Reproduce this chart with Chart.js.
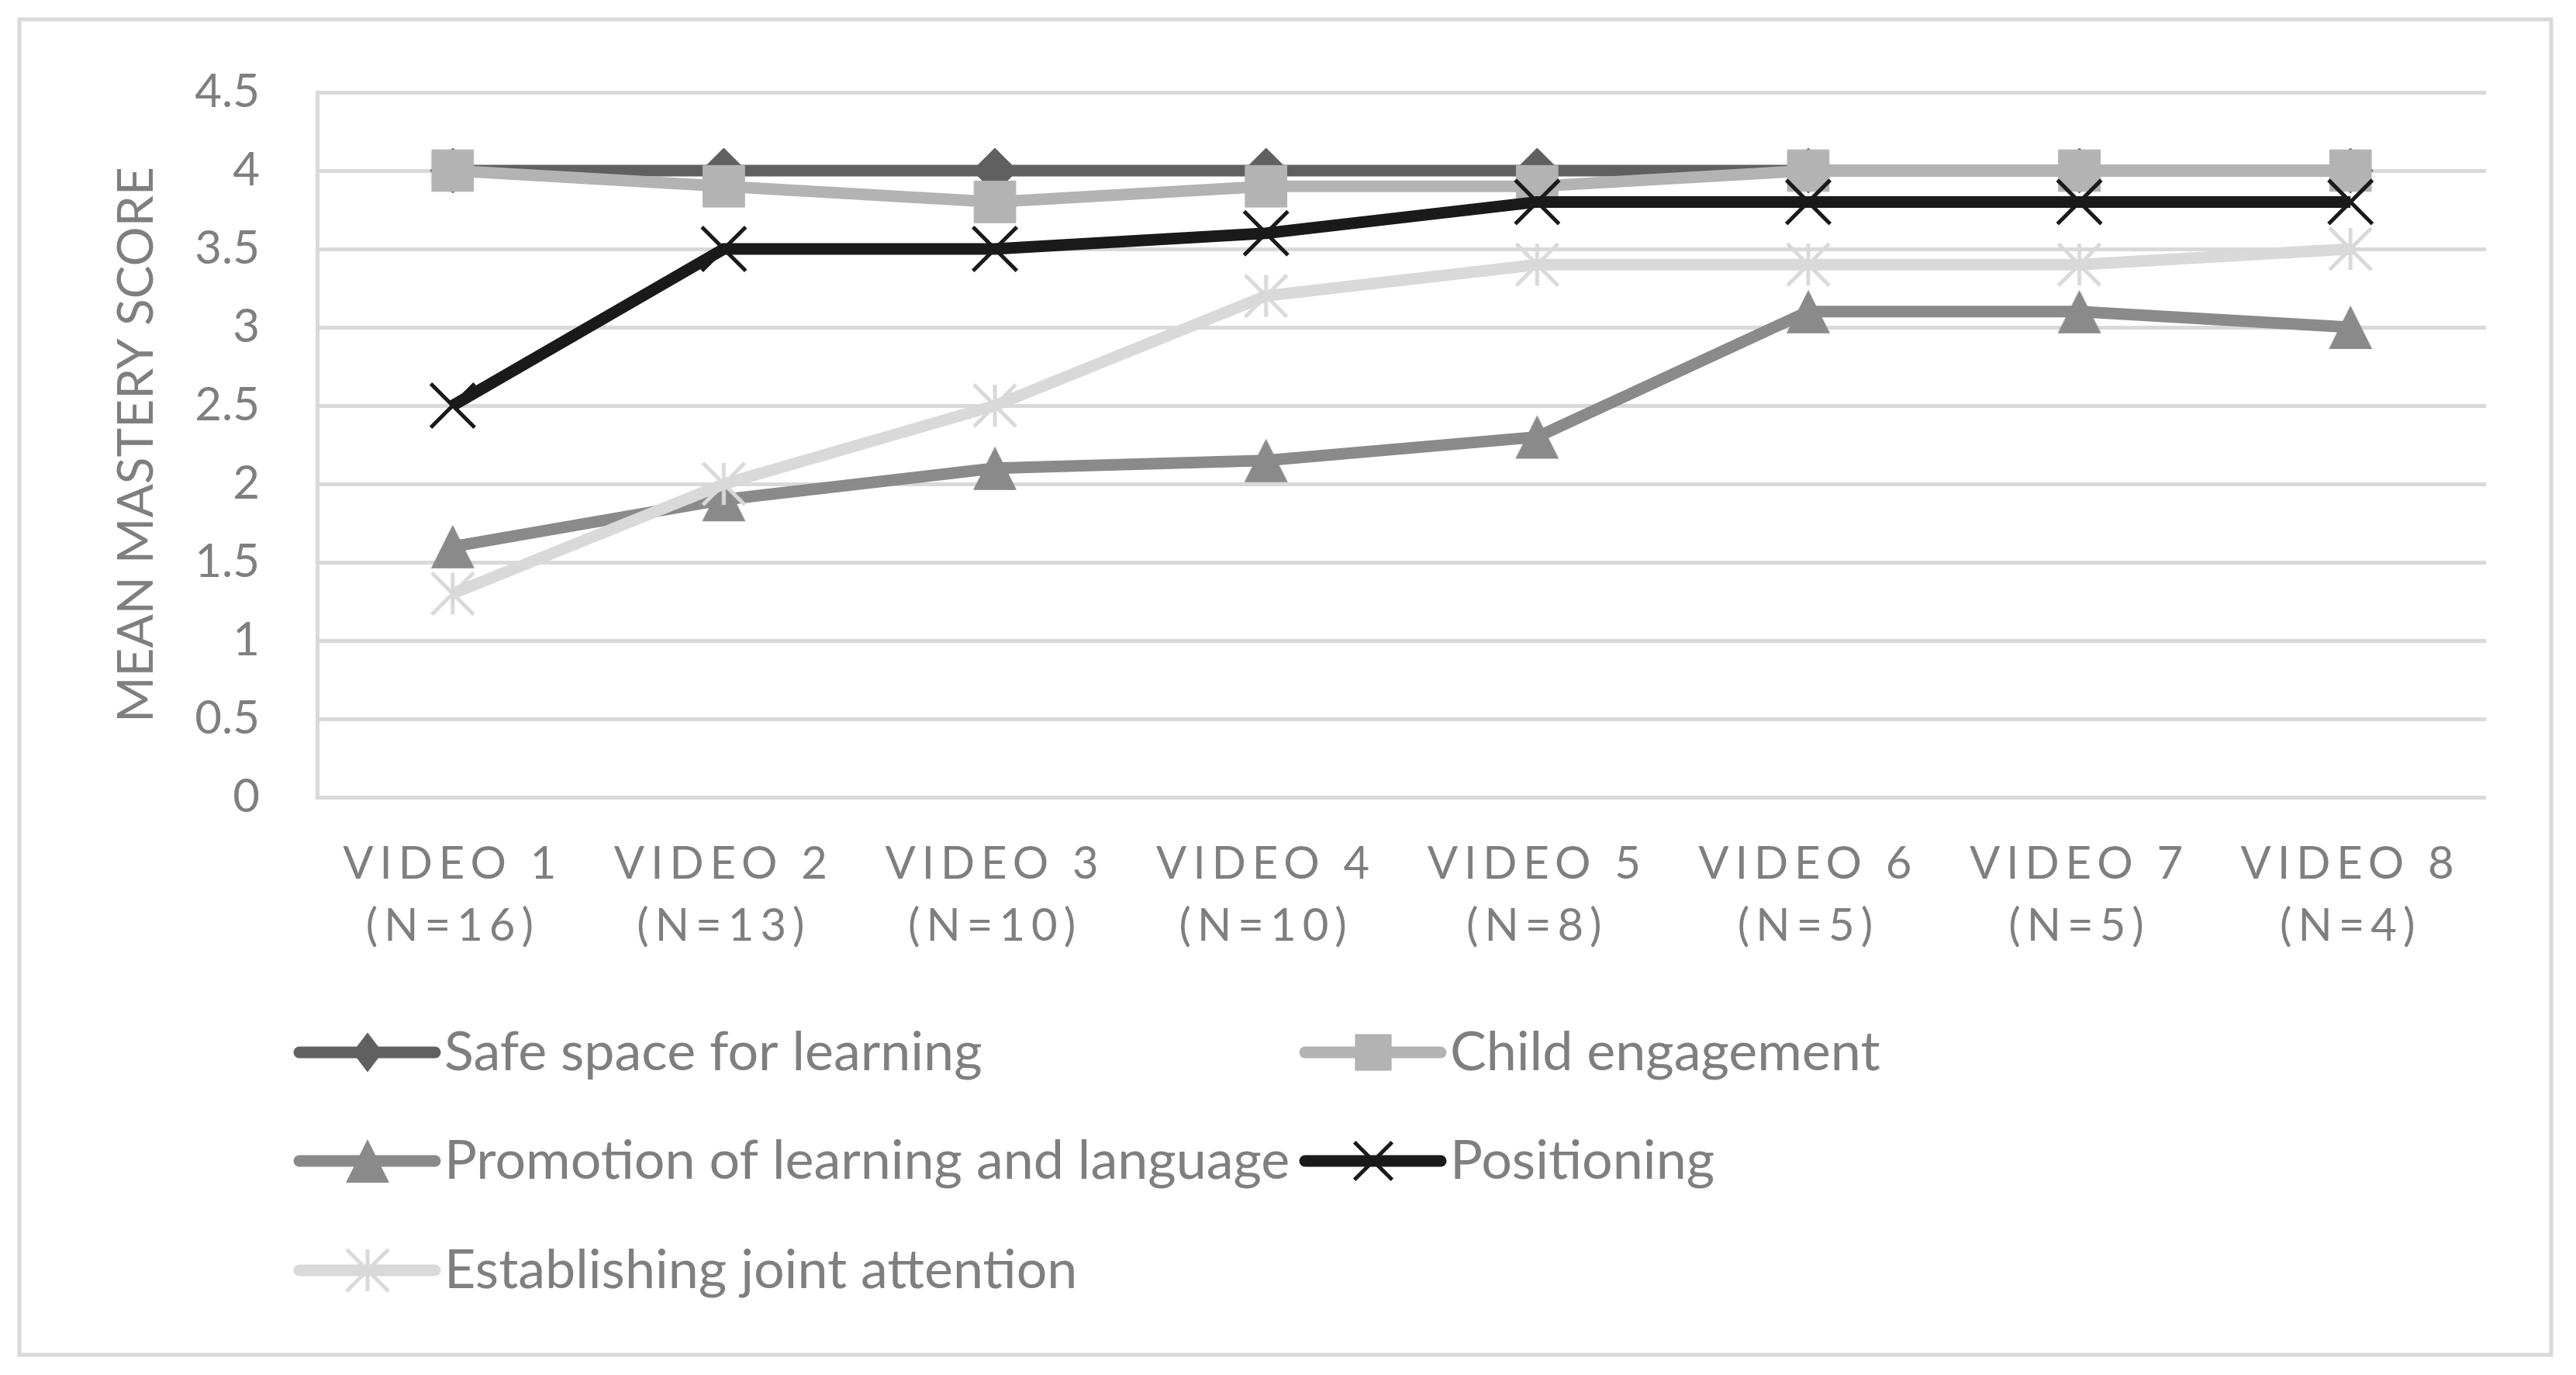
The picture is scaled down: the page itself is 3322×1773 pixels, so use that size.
<!DOCTYPE html>
<html>
<head>
<meta charset="utf-8">
<script src="https://cdn.jsdelivr.net/npm/chart.js"></script>
<style>
  html, body { margin: 0; padding: 0; background: #fff; }
  canvas { display: block; }
</style>
</head>
<body>
<canvas id="chart" width="3322" height="1773"></canvas>
<script>
const categories = ['VIDEO 1', 'VIDEO 2', 'VIDEO 3', 'VIDEO 4', 'VIDEO 5', 'VIDEO 6', 'VIDEO 7', 'VIDEO 8']
const sampleSizes = ['(N=16)', '(N=13)', '(N=10)', '(N=10)', '(N=8)', '(N=5)', '(N=5)', '(N=4)']
const yTickLabels = ['0', '0.5', '1', '1.5', '2', '2.5', '3', '3.5', '4', '4.5']

const seriesNames = ['Safe space for learning', 'Child engagement', 'Promotion of learning and language', 'Positioning', 'Establishing joint attention']
const safeSpace = [4, 4, 4, 4, 4, 4, 4, 4]
const childEngagement = [4, 3.9, 3.8, 3.9, 3.9, 4, 4, 4]
const promotion = [1.6, 1.9, 2.1, 2.15, 2.3, 3.1, 3.1, 3.0]
const positioning = [2.5, 3.5, 3.5, 3.6, 3.8, 3.8, 3.8, 3.8]
const jointAttention = [1.3, 2.0, 2.5, 3.2, 3.4, 3.4, 3.4, 3.5]

const textColor = '#7f7f7f'
const gridColor = '#d9d9d9'
Chart.defaults.font.family = 'Lato'
Chart.defaults.color = textColor

// excel style markers that chart.js has no built-in for
const triangleMarker = (color, size) => {
  const c = document.createElement('canvas')
  c.width = c.height = size
  const g = c.getContext('2d')
  g.fillStyle = color
  g.beginPath()
  g.moveTo(size / 2, 1)
  g.lineTo(size - 1, size - 1)
  g.lineTo(1, size - 1)
  g.closePath()
  g.fill()
  return c
}

const starMarker = (color, r, w) => {
  const c = document.createElement('canvas')
  c.width = c.height = 2 * r + 2 * w
  const g = c.getContext('2d')
  const m = c.width / 2
  g.strokeStyle = color
  g.lineWidth = w
  g.beginPath()
  g.moveTo(m - r, m - r); g.lineTo(m + r, m + r)
  g.moveTo(m + r, m - r); g.lineTo(m - r, m + r)
  g.moveTo(m, m - r); g.lineTo(m, m + r)
  g.stroke()
  return c
}

const line = (label, data, color, style, radius, borderW, order) => ({
  label, data, order,
  borderColor: color,
  backgroundColor: color,
  borderWidth: 15,
  pointStyle: style,
  pointRadius: radius,
  pointBorderWidth: borderW,
  pointBackgroundColor: color,
  pointBorderColor: color,
  tension: 0
})

const datasets = [
  line(seriesNames[0], safeSpace, '#606060', 'rectRot', 29, 1, 5),
  line(seriesNames[1], childEngagement, '#b3b3b3', 'rect', 38, 1, 4),
  line(seriesNames[2], promotion, '#8a8a8a', triangleMarker('#8a8a8a', 58), 29, 0, 3),
  line(seriesNames[3], positioning, '#1a1a1a', 'crossRot', 40, 5, 2),
  line(seriesNames[4], jointAttention, '#d9d9d9', starMarker('#d9d9d9', 27, 5), 27, 0, 1)
]

const frame = {
  id: 'frame',
  beforeDraw(chart) {
    const ctx = chart.ctx
    ctx.save()
    ctx.fillStyle = '#fff'
    ctx.fillRect(0, 0, chart.width, chart.height)
    ctx.strokeStyle = gridColor
    ctx.lineWidth = 5
    ctx.strokeRect(25, 25, 3265, 1722)
    ctx.restore()
  }
}

// spaced out category labels like the excel original
const spacedTicks = {
  id: 'spacedTicks',
  afterUpdate(chart) {
    const sc = chart.scales.x
    if (sc._spaced) return
    const draw = sc.drawLabels.bind(sc)
    sc.drawLabels = area => {
      sc.ctx.save()
      sc.ctx.letterSpacing = '8px'
      draw(area)
      sc.ctx.restore()
    }
    sc._spaced = true
  }
}

// two column legend with line + marker samples
const gridLegend = {
  id: 'gridLegend',
  afterDraw(chart) {
    const ctx = chart.ctx
    const cols = [386, 1683]
    const rows = [1357, 1497, 1638]
    chart.data.datasets.forEach((ds, i) => {
      const x = cols[i % 2]
      const y = rows[Math.floor(i / 2)]
      ctx.save()
      ctx.strokeStyle = ds.borderColor
      ctx.lineWidth = 15
      ctx.lineCap = 'round'
      ctx.beginPath()
      ctx.moveTo(x, y)
      ctx.lineTo(x + 175, y)
      ctx.stroke()
      ctx.fillStyle = ds.pointBackgroundColor
      ctx.strokeStyle = ds.pointBorderColor
      ctx.lineWidth = ds.pointBorderWidth
      ctx.lineCap = 'butt'
      const opts = {
        pointStyle: ds.pointStyle,
        radius: typeof ds.pointStyle === 'string' ? ds.pointRadius * 0.86 : ds.pointRadius,
        borderWidth: ds.pointBorderWidth,
        rotation: 0
      }
      if (ds.pointStyle === 'rectRot' && Chart.helpers.drawPointLegend) {
        Chart.helpers.drawPointLegend(ctx, opts, x + 88, y, 38)
      } else {
        Chart.helpers.drawPoint(ctx, opts, x + 88, y)
      }
      ctx.fillStyle = textColor
      ctx.font = '70px Lato'
      ctx.textBaseline = 'middle'
      ctx.textAlign = 'left'
      ctx.fillText(ds.label, x + 187, y)
      ctx.restore()
    })
  }
}

new Chart(document.getElementById('chart'), {
  type: 'line',
  data: {
    labels: categories.map((c, i) => [c, sampleSizes[i]]),
    datasets
  },
  options: {
    responsive: false,
    animation: false,
    devicePixelRatio: 1,
    layout: { padding: { left: 0, top: 119, right: 116, bottom: 545 } },
    plugins: {
      legend: { display: false },
      tooltip: { enabled: false }
    },
    scales: {
      x: {
        offset: true,
        grid: { display: false, drawTicks: false },
        border: { display: false },
        ticks: {
          padding: 46,
          maxRotation: 0,
          autoSkip: false,
          color: textColor,
          font: { size: 58, lineHeight: 1.38 }
        },
        afterFit: s => { s.height = 200 }
      },
      y: {
        min: 0,
        max: 4.5,
        grid: { color: gridColor, lineWidth: 5, drawTicks: false },
        border: { display: true, color: gridColor, width: 5 },
        ticks: {
          stepSize: 0.5,
          padding: 74,
          color: textColor,
          font: { size: 60 },
          callback: (v, i) => yTickLabels[i]
        },
        title: {
          display: true,
          text: 'MEAN MASTERY SCORE',
          color: textColor,
          font: { size: 64 },
          padding: { top: 138, bottom: 0 }
        },
        afterFit: s => { s.width = 409 }
      }
    }
  },
  plugins: [frame, spacedTicks, gridLegend]
})
</script>
</body>
</html>
